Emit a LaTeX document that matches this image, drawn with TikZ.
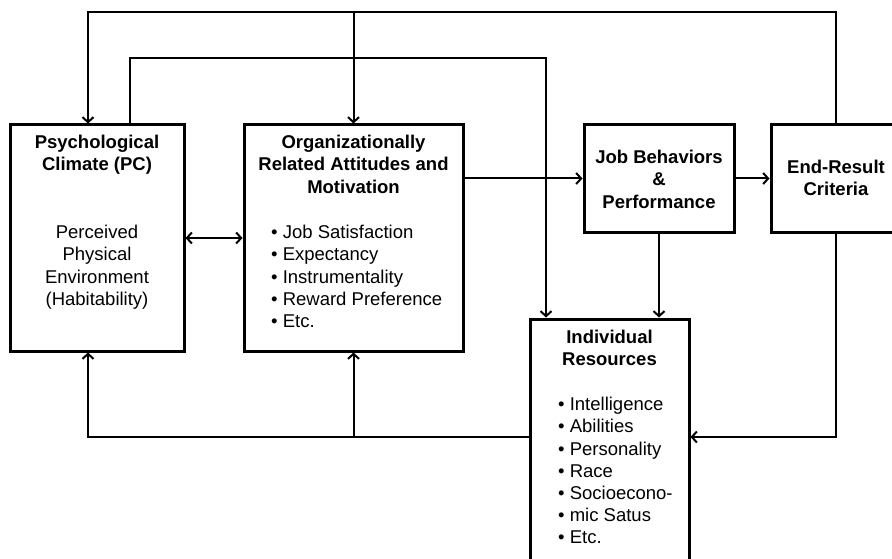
\documentclass[tikz,border=0pt]{standalone}
\usepackage{fontspec}
\setmainfont{Liberation Sans}
\usetikzlibrary{arrows.meta}
\begin{document}
\begin{tikzpicture}[x=1pt,y=-1pt,
  box/.style={draw=black,line width=3pt,rectangle,inner sep=0pt},
  txt/.style={inner sep=0pt,font=\fontsize{18.5}{22.2}\selectfont,text=black},
  head/.style={txt,font=\fontsize{18.5}{22.2}\selectfont\bfseries,align=center,anchor=north},
  body/.style={txt,align=center,anchor=north},
  list/.style={txt,align=left,anchor=north west},
  conn/.style={draw=black,line width=2pt,-{Straight Barb[length=5pt,width=11pt]}},
  bconn/.style={draw=black,line width=2pt,{Straight Barb[length=5pt,width=11pt]}-{Straight Barb[length=5pt,width=11pt]}}]
\useasboundingbox (0,0) rectangle (892,559);
\clip (0,0) rectangle (892,559);
\fill[white] (0,0) rectangle (892,559);

% boxes
\node[box,minimum width=174pt,minimum height=226pt] (PC)  at (97,238) {};
\node[box,minimum width=219pt,minimum height=226pt] (ORA) at (353.5,238) {};
\node[box,minimum width=150pt,minimum height=107pt] (JB)  at (659,178.5) {};
\node[box,minimum width=130pt,minimum height=107pt] (ERC) at (836,178.5) {};
\node[box,minimum width=159pt,minimum height=260pt] (IR)  at (609.5,449) {};

% texts
\node[head] (pct) at (97,135) {Psychological\\Climate (PC)};
\node[body] (pcb) at (97,225) {Perceived\\Physical\\Environment\\(Habitability)};
\node[head] (orat) at (353.5,135) {Organizationally\\Related Attitudes and\\Motivation};
\node[list] (orab) at (271,225) {\textbullet\ Job Satisfaction\\\textbullet\ Expectancy\\\textbullet\ Instrumentality\\\textbullet\ Reward Preference\\\textbullet\ Etc.};
\node[head] (jbt) at (659,150) {Job Behaviors\\\&\\Performance};
\node[head] (erct) at (836,160) {End-Result\\Criteria};
\node[head] (irt) at (609.5,330) {Individual\\Resources};
\node[list] (irb) at (558,397) {\textbullet\ Intelligence\\\textbullet\ Abilities\\\textbullet\ Personality\\\textbullet\ Race\\\textbullet\ Socioecono-\\\textbullet\ mic Satus\\\textbullet\ Etc.};

% routing points
\coordinate (t1) at (88,12);
\coordinate (t2) at (353.5,12);
\coordinate (s1) at (130,58);
\coordinate (s2) at (546,58);
\coordinate (b1) at (88,437);

% connectors
\draw[conn] (ERC.north) |- (t1) -- (t1 |- PC.north);
\draw[conn] (t2) -- (ORA.north);
\draw[conn] (s1 |- PC.north) -- (s1) -- (s2) -- (s2 |- IR.north);
\draw[conn] (ORA.east |- JB.west) -- (JB.west);
\draw[conn] (JB.east) -- (ERC.west);
\draw[conn] (JB.south) -- (JB.south |- IR.north);
\draw[conn] (ERC.south) |- (b1 -| IR.east);
\draw[conn] (b1 -| IR.west) -- (b1) -- (b1 |- PC.south);
\draw[conn] (ORA.south |- b1) -- (ORA.south);
\draw[bconn] (PC.east) -- (ORA.west);
\end{tikzpicture}
\end{document}
